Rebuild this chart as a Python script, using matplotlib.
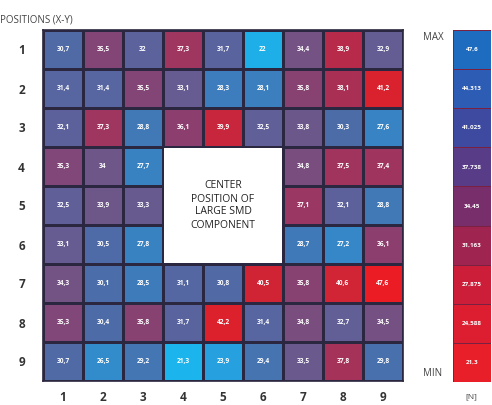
import numpy as np
import matplotlib
matplotlib.use("Agg")
import matplotlib.pyplot as plt
from matplotlib.colors import LinearSegmentedColormap
from matplotlib.patches import Rectangle

plt.rcParams['font.family'] = ['Open Sans', 'DejaVu Sans']

# measured force per position [N], rows 1..9 (Y), cols 1..9 (X); None = component area
row1 = [30.7, 35.5, 32.0, 37.3, 31.7, 22.0, 34.4, 38.9, 32.9]
row2 = [31.4, 31.4, 35.5, 33.1, 28.3, 28.1, 35.8, 38.1, 41.2]
row3 = [32.1, 37.3, 28.8, 36.1, 39.9, 32.5, 33.8, 30.3, 27.6]
row4 = [35.3, 34.0, 27.7, None, None, None, 34.8, 37.5, 37.4]
row5 = [32.5, 33.9, 33.3, None, None, None, 37.1, 32.1, 28.8]
row6 = [33.1, 30.5, 27.8, None, None, None, 28.7, 27.2, 36.1]
row7 = [34.3, 30.1, 28.5, 31.1, 30.8, 40.5, 35.8, 40.6, 47.6]
row8 = [35.3, 30.4, 35.8, 31.7, 42.2, 31.4, 34.8, 32.7, 34.5]
row9 = [30.7, 26.5, 29.2, 21.3, 23.9, 29.4, 33.5, 37.8, 29.8]
rows = [row1, row2, row3, row4, row5, row6, row7, row8, row9]
pos_labels = ['1', '2', '3', '4', '5', '6', '7', '8', '9']

v_max = 47.6
v_min = 21.3
cbar_levels = [47.6, 44.313, 41.025, 37.738, 34.45, 31.163, 27.875, 24.588, 21.3]
cbar_texts = ['47,6', '44,313', '41,025', '37,738', '34,45', '31,163', '27,875', '24,588', '21,3']

data = np.ma.masked_invalid(np.array([[np.nan if v is None else v for v in r] for r in rows], dtype=float))

stops = [(21.3, '#1cb4ec'), (25.0, '#2a98d8'), (28.0, '#3a80c0'), (30.0, '#4a6eaa'),
         (32.0, '#5c629c'), (34.0, '#6e5688'), (36.0, '#8a4070'), (38.5, '#b02c50'),
         (41.0, '#d8222e'), (47.6, '#ec1c24')]
cell_cmap = LinearSegmentedColormap.from_list(
    'cells', [((v - v_min) / (v_max - v_min), c) for v, c in stops])
cbar_cmap = LinearSegmentedColormap.from_list(
    'cbar', ['#e81e28', '#dc1e30', '#cc1e38', '#a02450', '#7a2e6c',
             '#5a3c88', '#3e4aa0', '#2c5cb4', '#1e6cc0'])

W, H = 492, 405
fig = plt.figure(figsize=(W / 100, H / 100), dpi=100)

def px_axes(x0, y0, x1, y1):
    return fig.add_axes([x0 / W, 1 - y1 / H, (x1 - x0) / W, (y1 - y0) / H])

ax = px_axes(43, 30, 403, 381)
ax.pcolormesh(np.arange(10), np.arange(10), data, cmap=cell_cmap, vmin=v_min, vmax=v_max,
              edgecolors='#2b2740', linewidth=0.9)
ax.add_patch(Rectangle((3.02, 3.02), 2.96, 2.96, facecolor='white', edgecolor='none', zorder=3))
ax.set_xlim(0, 9)
ax.set_ylim(9, 0)
for i, r in enumerate(rows):
    for j, v in enumerate(r):
        if v is None:
            continue
        s = f'{v:g}'.replace('.', ',')
        ax.text(j + 0.5, i + 0.5, s, ha='center', va='center', color='white',
                fontsize=4.8, fontweight='bold')
ax.text(4.5, 4.5, 'CENTER\nPOSITION OF\nLARGE SMD\nCOMPONENT', ha='center', va='center',
        fontsize=7.5, color='#222222', linespacing=1.25, zorder=4)
ax.set_xticks(np.arange(9) + 0.5)
ax.set_xticklabels(pos_labels)
ax.set_yticks(np.arange(9) + 0.5)
ax.set_yticklabels(pos_labels)
ax.tick_params(length=0, labelsize=8.5, colors='#333333')
ax.tick_params(axis='x', pad=7)
ax.tick_params(axis='y', pad=13)
for lbl in ax.get_xticklabels() + ax.get_yticklabels():
    lbl.set_fontweight('bold')
for sp in ax.spines.values():
    sp.set_color('#2b2740')
    sp.set_linewidth(1.2)

cax = px_axes(453, 30, 491, 382)
cax.pcolormesh(np.array([0, 1]), np.arange(10), np.array(cbar_levels)[:, None],
               cmap=cbar_cmap, vmin=v_min, vmax=v_max, edgecolors='#7a2040', linewidth=0.4)
cax.set_xlim(0, 1)
cax.set_ylim(9, 0)
for i, t in enumerate(cbar_texts):
    cax.text(0.5, i + 0.5, t, ha='center', va='center', color='white', fontsize=4.5,
             fontweight='bold')
cax.set_xticks([])
cax.set_yticks([])
for sp in cax.spines.values():
    sp.set_visible(False)

fig.text(0 / W, 1 - 20 / H, 'POSITIONS (X-Y)', fontsize=7, color='#444444', va='center')
fig.text(433 / W, 1 - 37 / H, 'MAX', fontsize=7, color='#444444', ha='center', va='center')
fig.text(433 / W, 1 - 373 / H, 'MIN', fontsize=7, color='#444444', ha='center', va='center')
fig.text(471 / W, 1 - 397 / H, '[N]', fontsize=6, color='#444444', ha='center', va='center')

fig.savefig('out.png', dpi=100)
